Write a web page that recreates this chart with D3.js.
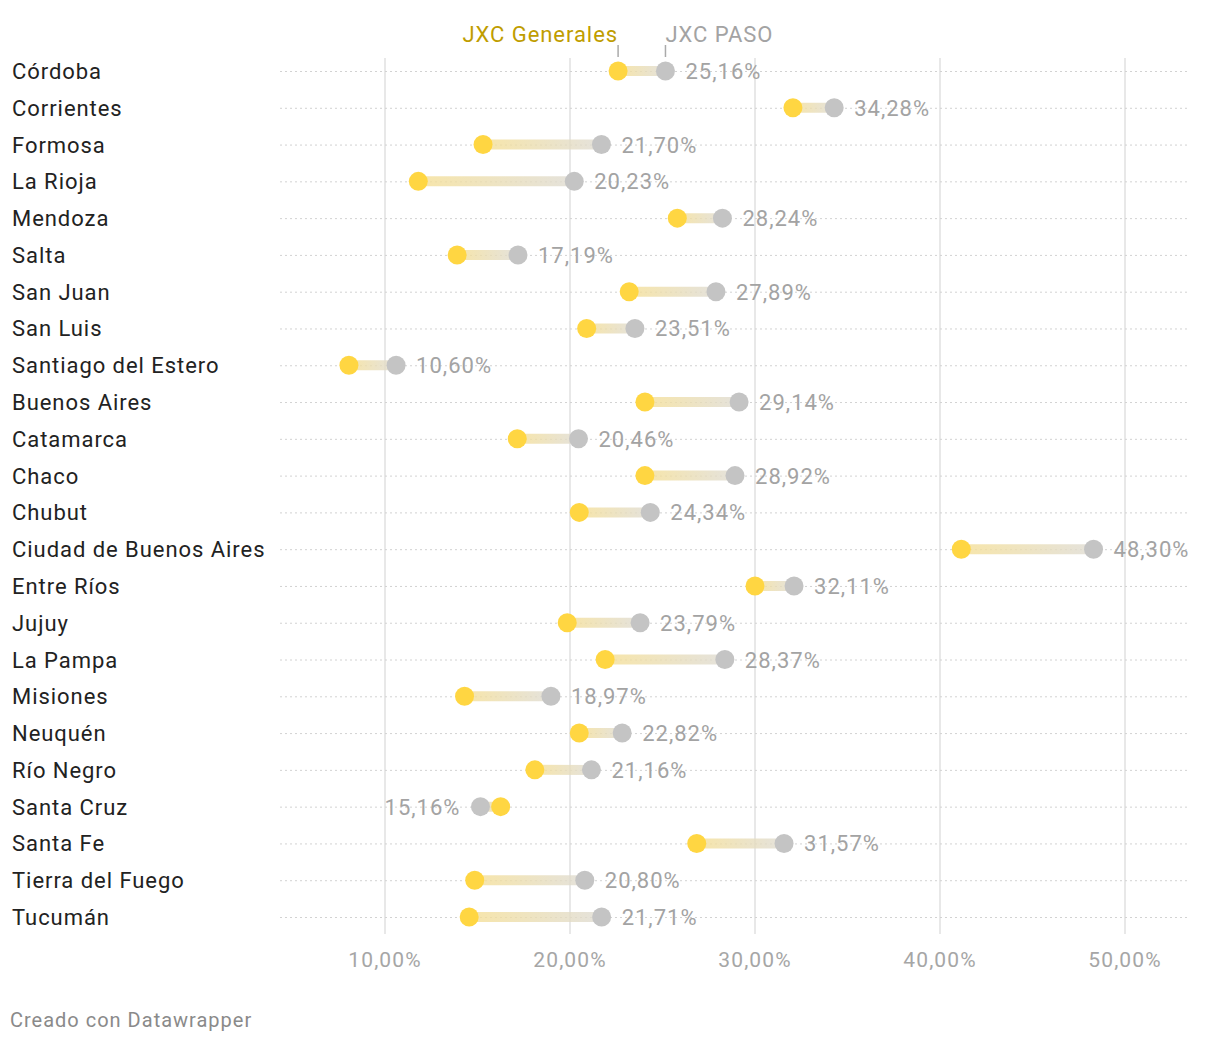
<!DOCTYPE html>
<html><head><meta charset="utf-8">
<script src="https://cdn.jsdelivr.net/npm/d3@7"></script>
<style>
body{margin:0;background:#fff;font-family:Roboto,"Noto Sans",sans-serif;}
</style></head>
<body><svg id="c" width="1220" height="1046"></svg>
<script>
const provinces = ["Córdoba","Corrientes","Formosa","La Rioja","Mendoza","Salta","San Juan","San Luis","Santiago del Estero","Buenos Aires","Catamarca","Chaco","Chubut","Ciudad de Buenos Aires","Entre Ríos","Jujuy","La Pampa","Misiones","Neuquén","Río Negro","Santa Cruz","Santa Fe","Tierra del Fuego","Tucumán"];
const generales = [22.6,32.05,15.3,11.8,25.8,13.9,23.2,20.9,8.05,24.05,17.15,24.05,20.5,41.15,30.0,19.85,21.9,14.3,20.5,18.1,16.25,26.85,14.85,14.55];
const paso = [25.16,34.28,21.70,20.23,28.24,17.19,27.89,23.51,10.60,29.14,20.46,28.92,24.34,48.30,32.11,23.79,28.37,18.97,22.82,21.16,15.16,31.57,20.80,21.71];
const ticks = [10,20,30,40,50];
const tickLabels = ["10,00%","20,00%","30,00%","40,00%","50,00%"];

const svg = d3.select("#c");
const x = d3.scaleLinear().domain([0,50]).range([200,1125]);
const y = d3.scalePoint().domain(provinces).range([71,917]);
const left = 280, right = 1187;

// gridlines
svg.append("g").selectAll("line").data(ticks).join("line")
  .attr("x1",d=>x(d)).attr("x2",d=>x(d)).attr("y1",58).attr("y2",934)
  .attr("stroke","#e0e0e0").attr("stroke-width",1.5);
svg.append("g").selectAll("text").data(ticks).join("text")
  .attr("x",d=>x(d)).attr("y",967).attr("text-anchor","middle")
  .attr("font-size",21).attr("letter-spacing","1.1px").attr("fill","#a6a6a6").text((d,i)=>tickLabels[i]);

// row dotted lines
svg.append("g").selectAll("line").data(provinces).join("line")
  .attr("x1",left).attr("x2",right).attr("y1",d=>y(d)+0.5).attr("y2",d=>y(d)+0.5)
  .attr("stroke","#d2d2d2").attr("stroke-width",1).attr("stroke-dasharray","2,3");

// labels
svg.append("g").selectAll("text").data(provinces).join("text")
  .attr("x",12).attr("y",d=>y(d)+8).attr("font-size",22).attr("letter-spacing","0.95px").attr("fill","#222").text(d=>d);

const defs = svg.append("defs");
const rows = provinces.map((p,i)=>({p,g:generales[i],s:paso[i],i}));
rows.forEach(r=>{
  const gr = defs.append("linearGradient").attr("id","g"+r.i)
    .attr("gradientUnits","userSpaceOnUse")
    .attr("x1",x(r.g)).attr("x2",x(r.s)).attr("y1",0).attr("y2",0);
  gr.append("stop").attr("offset","0").attr("stop-color","#f5df95");
  gr.append("stop").attr("offset","1").attr("stop-color","#dedbd3");
});
svg.append("g").selectAll("line").data(rows).join("line")
  .attr("x1",d=>x(d.g)).attr("x2",d=>x(d.s)).attr("y1",d=>y(d.p)).attr("y2",d=>y(d.p)+0.01)
  .attr("stroke",d=>"url(#g"+d.i+")").attr("stroke-width",10).attr("stroke-opacity",0.8);
svg.append("g").selectAll("circle").data(rows).join("circle")
  .attr("cx",d=>x(d.s)).attr("cy",d=>y(d.p)).attr("r",9.5).attr("fill","#c4c4c4");
svg.append("g").selectAll("circle").data(rows).join("circle")
  .attr("cx",d=>x(d.g)).attr("cy",d=>y(d.p)).attr("r",9.5).attr("fill","#ffd642");
const fmt = v => v.toFixed(2).replace(".",",")+"%";
svg.append("g").selectAll("text").data(rows).join("text")
  .attr("x",d=> d.s>=d.g ? x(d.s)+20 : x(d.s)-20)
  .attr("text-anchor",d=> d.s>=d.g ? "start":"end")
  .attr("y",d=>y(d.p)+8).attr("font-size",22).attr("letter-spacing","1px").attr("fill","#a3a3a3").text(d=>fmt(d.s));

// legend
const g0 = x(generales[0]), s0 = x(paso[0]);
svg.append("line").attr("x1",g0).attr("x2",g0).attr("y1",45).attr("y2",57).attr("stroke","#aaa").attr("stroke-width",1.5);
svg.append("line").attr("x1",s0).attr("x2",s0).attr("y1",45).attr("y2",57).attr("stroke","#aaa").attr("stroke-width",1.5);
svg.append("text").attr("x",g0).attr("y",42).attr("text-anchor","end").attr("font-size",22).attr("letter-spacing","0.95px").attr("fill","#bf9d00").text("JXC Generales");
svg.append("text").attr("x",s0).attr("y",42).attr("text-anchor","start").attr("font-size",22).attr("letter-spacing","0.95px").attr("fill","#a3a3a3").text("JXC PASO");

svg.append("text").attr("x",10).attr("y",1027).attr("font-size",20).attr("letter-spacing","1px").attr("fill","#8a8a8a").text("Creado con Datawrapper");
</script></body></html>
